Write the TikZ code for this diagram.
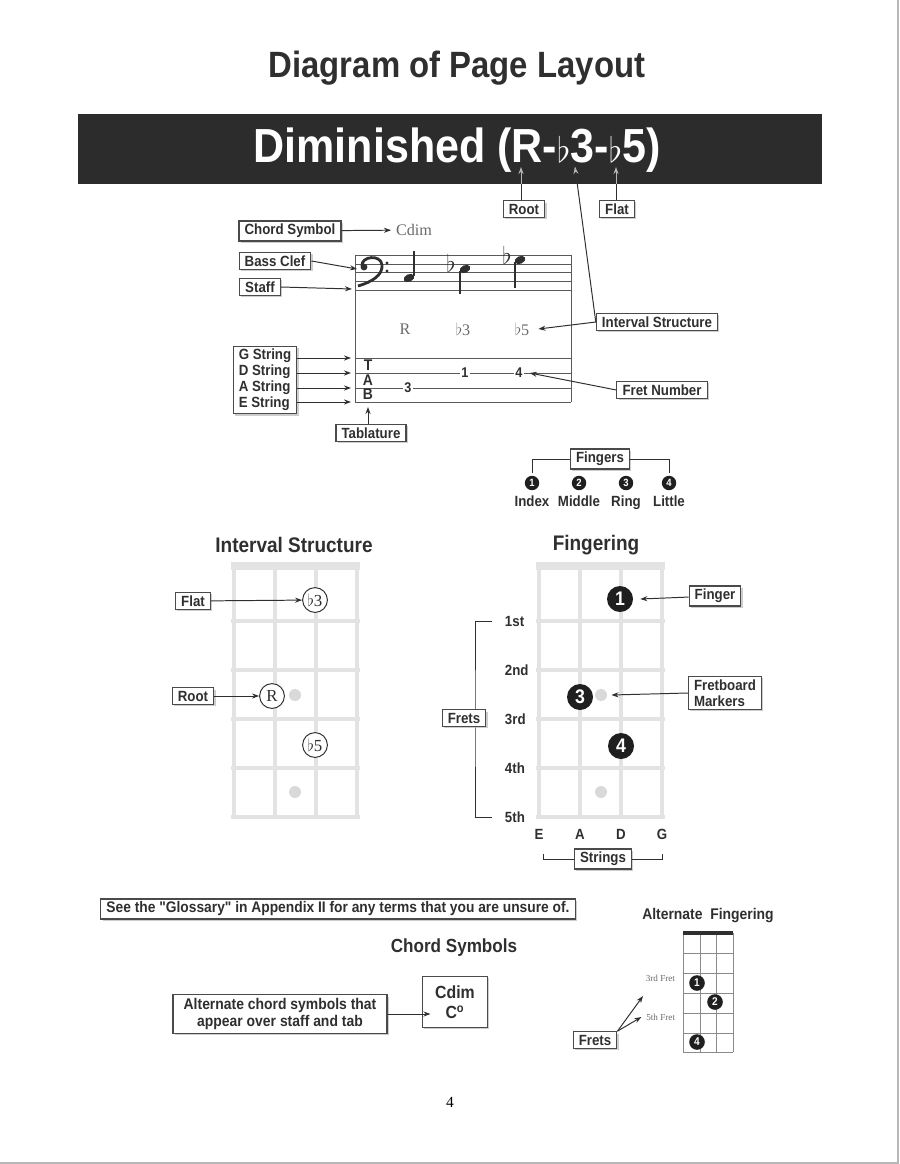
\documentclass[tikz,border=0pt]{standalone}
\usepackage{fontspec}
\setmainfont{Liberation Serif}
\newfontfamily\lblfont{Liberation Sans}[FakeStretch=0.9]
\usepackage{xcolor}
\usepackage{amsmath}
\usepackage{tikz}
\usetikzlibrary{shapes.geometric,arrows.meta,positioning,calc,shadows}
\definecolor{InkGray}{HTML}{2F2F2F}
\definecolor{BoxLine}{HTML}{4A4A4A}
\definecolor{BannerGray}{HTML}{2C2C2C}
\definecolor{GridGray}{HTML}{E3E3E3}
\definecolor{DotGray}{HTML}{D9D9D9}
\definecolor{SerifGray}{HTML}{6A6A6A}
\definecolor{ShadeGray}{HTML}{B8B8B8}
\definecolor{FretLine}{HTML}{8A8A8A}
\definecolor{PaleArrow}{HTML}{B5B5B5}
\tikzset{
  % Label box
  LB/.style={rectangle,draw=BoxLine,fill=white,line width=0.8pt,
             inner xsep=4pt,inner ysep=2.2pt,text=InkGray,
             font=\lblfont\bfseries\fontsize{10.5}{11.5}\selectfont,
             drop shadow={shadow xshift=1.3pt,shadow yshift=-1.3pt,fill=ShadeGray,opacity=.7}},
  % Arrow and plain line
  arr/.style={-{Stealth[length=5pt,width=3.6pt]},line width=0.7pt,draw=InkGray},
  ln/.style={line width=0.7pt,draw=InkGray},
  % Texts
  TT/.style={font=\lblfont\bfseries\fontsize{26}{30}\selectfont,text=InkGray},
  HD/.style={font=\lblfont\bfseries\fontsize{15}{17}\selectfont,text=InkGray},
  ST/.style={font=\lblfont\bfseries\fontsize{10.5}{12}\selectfont,text=InkGray},
  SG/.style={font=\fontsize{11.5}{13}\selectfont,text=SerifGray},
  % Banner
  BN/.style={rectangle,fill=BannerGray,minimum width=18.6cm,minimum height=1.75cm,inner sep=0pt},
  BT/.style={font=\lblfont\bfseries\fontsize{34}{38}\selectfont,text=white},
  % Staff parts
  SL/.style={line width=0.6pt,draw=InkGray!80},
  NH/.style={ellipse,fill=InkGray,inner sep=0pt,minimum width=0.28cm,minimum height=0.19cm},
  SM/.style={line width=0.8pt,draw=InkGray},
  FL/.style={font=\fontsize{17}{17}\selectfont,text=InkGray,inner sep=0pt},
  TB/.style={font=\lblfont\bfseries\fontsize{11}{11}\selectfont,text=InkGray,inner sep=0pt},
  TN/.style={font=\lblfont\bfseries\fontsize{10}{10}\selectfont,text=InkGray,fill=white,inner sep=1pt},
  % Finger dots
  FD/.style={circle,fill=black!88,text=white,inner sep=0pt,minimum size=0.65cm,
             font=\lblfont\bfseries\fontsize{14}{14}\selectfont},
  fd/.style={circle,fill=black!88,text=white,inner sep=0pt,minimum size=0.36cm,
             font=\lblfont\bfseries\fontsize{7.5}{7.5}\selectfont},
  % Interval circles and markers
  IC/.style={circle,draw=InkGray,fill=white,line width=0.7pt,inner sep=0pt,minimum size=0.62cm,
             font=\fontsize{12}{12}\selectfont,text=InkGray},
  MK/.style={circle,fill=DotGray,inner sep=0pt,minimum size=0.3cm},
  GR/.style={draw=GridGray,line width=3pt},
  NT/.style={draw=GridGray,line width=5.5pt}
}
\begin{document}
\begin{tikzpicture}[x=0.025cm,y=-0.025cm,every node/.style={align=center}]
  \useasboundingbox (0,0) rectangle (900,1164);
  \draw[ShadeGray,line width=0.8pt] (898,0) -- (898,1163) -- (0,1163);

  % Title and banner
  \node[TT] (title) at (457,68) {Diagram of Page Layout};
  \node[BN] (banner) at (450,149) {};
  \node[BT] (bantxt) at (457,150) {Diminished (R-$\flat$3-$\flat$5)};
  \coordinate (pR)  at (521,167);
  \coordinate (pF3) at (575,167);
  \coordinate (pF5) at (616,167);

  % Staff and tab
  \foreach \y in {255,264,272,281,290} \draw[SL] (355,\y) -- (571,\y);
  \foreach \y in {358,373,388,402} \draw[SL] (355,\y) -- (571,\y);
  \draw[SL] (355,255) -- (355,402);
  \draw[SL] (571,255) -- (571,402);
  % bass clef
  \fill[InkGray] (364,267) circle (3.4);
  \draw[InkGray,line width=2pt] (362,266) .. controls (361,256) and (381,254) .. (382,265)
        .. controls (383,275) and (372,282) .. (358,286);
  \fill[InkGray] (387,263) circle (1.7);
  \fill[InkGray] (387,271) circle (1.7);
  \coordinate (clef) at (357,269);
  \coordinate (stfpt) at (352,289);
  % notes
  \node[NH,rotate=25] (n1) at (409,278) {};
  \node[NH,rotate=25] (n2) at (465,269) {};
  \node[NH,rotate=25] (n3) at (520,260) {};
  \draw[SM] (414,276) -- (414,251);
  \draw[SM] (460,271) -- (460,294);
  \draw[SM] (515,262) -- (515,288);
  \node[FL] (fl2) at (451,263) {$\flat$};
  \node[FL] (fl3) at (507,255) {$\flat$};
  \node[SG] (stR) at (405,329) {R};
  \node[SG] (st3) at (463,329) {$\flat$3};
  \node[SG] (st5) at (522,329) {$\flat$5};
  \node[TB] (tT) at (368,365) {T};
  \node[TB] (tA) at (368,380) {A};
  \node[TB] (tB) at (368,394) {B};
  \node[TN] (t3) at (408,388) {3};
  \node[TN] (t1) at (465,373) {1};
  \node[TN] (t4) at (519,373) {4};
  \coordinate (sG) at (351,358);
  \coordinate (sD) at (351,373);
  \coordinate (sA) at (351,388);
  \coordinate (sE) at (351,402);
  \coordinate (tabpt) at (368,407);

  % Labels round the staff
  \node[LB] (root) at (524,209) {Root};
  \node[LB] (flat) at (617,209) {Flat};
  \node[LB] (chs) at (290,231) {Chord Symbol};
  \node[SG] (cdim) at (414,230) {Cdim};
  \node[LB] (bcl) at (275,261) {Bass Clef};
  \node[LB] (stf) at (260,287) {Staff};
  \node[LB,align=left,font=\lblfont\bfseries\fontsize{10.5}{11.3}\selectfont] (strs) at (265,380)
       {G String\\D String\\A String\\E String};
  \node[LB] (tabl) at (371,433) {Tablature};
  \node[LB] (ivs) at (657,322) {Interval Structure};
  \node[LB] (frn) at (662,390) {Fret Number};

  \draw[ln](root.north -| pR)--(pR |- banner.south);
  \draw[ln](flat.north -| pF5)--(pF5 |- banner.south);
  \draw[ln](ivs.west)--($(ivs.west)!(banner.south)!(pF3)$);
  \draw[arr,draw=PaleArrow](pR |- banner.south)--(pR);
  \draw[arr,draw=PaleArrow](pF5 |- banner.south)--(pF5);
  \draw[arr,draw=PaleArrow]($(ivs.west)!(banner.south)!(pF3)$)--(pF3);
  \draw[arr](ivs.west)--([xshift=3pt]st5.east);
  \draw[arr](chs)--(cdim);
  \draw[arr](bcl.east)--(clef);
  \draw[arr](stf.east)--(stfpt);
  \foreach \c in {sG,sD,sA,sE} \draw[arr](strs.east |- \c)--(\c);
  \draw[arr](tabl.north -| tB)--(tabpt);
  \draw[arr](frn.west)--([xshift=4pt]t4.east);

  % Fingers legend
  \node[LB] (fgs) at (600,459) {Fingers};
  \foreach \x/\n/\w in {532/1/Index,579/2/Middle,626/3/Ring,669/4/Little}{
    \node[fd] (c\n) at (\x,483) {\n};
    \node[ST,anchor=base] (w\n) at (\x,506) {\w};
  }
  \draw[ln,shorten >=2pt](fgs.west) -| (c1.north);
  \draw[ln,shorten >=2pt](fgs.east) -| (c4.north);

  % Interval structure board
  \node[HD] (ivt) at (294,545) {Interval Structure};
  \foreach \x in {234,275,316,357} \draw[GR] (\x,566) -- (\x,817);
  \foreach \y in {621,670,719,768,817} \draw[GR] (231,\y) -- (360,\y);
  \draw[NT] (231,566) -- (360,566);
  \node[MK] (im1) at (295,695) {};
  \node[MK] (im2) at (295,792) {};
  \node[IC] (iv3) at (315,600) {$\flat$3};
  \node[IC] (ivR) at (272,696) {R};
  \node[IC] (iv5) at (315,745) {$\flat$5};
  \node[LB] (flat2) at (193,601) {Flat};
  \node[LB] (root2) at (193,696) {Root};
  \draw[arr](flat2)--(iv3);
  \draw[arr](root2)--(ivR);

  % Fingering board
  \node[HD] (fgt) at (596,545) {Fingering};
  \foreach \x in {539,580,621,662} \draw[GR] (\x,566) -- (\x,817);
  \foreach \y in {621,670,719,768,817} \draw[GR] (536,\y) -- (665,\y);
  \draw[NT] (536,566) -- (665,566);
  \node[MK] (fm1) at (601,695) {};
  \node[MK] (fm2) at (601,792) {};
  \node[FD] (f1) at (620,599) {1};
  \node[FD] (f3) at (580,697) {3};
  \node[FD] (f4) at (621,746) {4};
  \node[LB] (fbox) at (715,596) {Finger};
  \node[LB,align=left] (mbox) at (725,693) {Fretboard\\Markers};
  \draw[arr](fbox)--([xshift=5pt]f1.east);
  \draw[arr](mbox.west)--([xshift=3pt]fm1.east);
  \foreach \y/\t [count=\i] in {621/1st,670/2nd,719/3rd,768/4th,817/5th}
    \node[ST,anchor=west] (fr\i) at (500,\y) {\t};
  \coordinate (fbk) at (475,718);
  \draw[ln]([xshift=-6pt]fr1.west) -| (fbk) |- ([xshift=-6pt]fr5.west);
  \node[LB] (frbox) at (464,718) {Frets};
  \foreach \x/\s [count=\i] in {539/E,580/A,621/D,662/G}
    \node[ST] (sl\i) at (\x,834) {\s};
  \node[LB] (sbox) at (603,859) {Strings};
  \draw[ln](sbox.west) -| ([xshift=3pt,yshift=-7pt]sl1.south);
  \draw[ln](sbox.east) -| ([yshift=-7pt]sl4.south);

  % Bottom notes
  \node[LB,font=\lblfont\bfseries\fontsize{10.9}{12}\selectfont,inner ysep=2pt] (gloss) at (338,909)
       {See the "Glossary" in Appendix II for any terms that you are unsure of.};
  \node[HD,font=\lblfont\bfseries\fontsize{13.5}{15}\selectfont] (cst) at (454,948) {Chord Symbols};
  \node[LB,font=\lblfont\bfseries\fontsize{11}{12.5}\selectfont,minimum width=5.35cm] (altb) at (280,1014)
       {Alternate chord symbols that\\appear over staff and tab};
  \node[LB,font=\lblfont\bfseries\fontsize{12.5}{14}\selectfont,minimum width=1.62cm,minimum height=1.27cm] (cdb) at (455,1002)
       {Cdim\\C\textsuperscript{o}};
  \draw[arr](altb.east)--([xshift=6pt]cdb.west |- altb.east);

  % Alternate fingering
  \node[ST,font=\lblfont\bfseries\fontsize{11}{12}\selectfont] (aft) at (708,916) {Alternate~ Fingering};
  \foreach \x in {683,700,716,733} \draw[FretLine,line width=0.7pt] (\x,933) -- (\x,1052);
  \foreach \y in {953,973,993,1013,1033,1052} \draw[FretLine,line width=0.7pt] (683,\y) -- (733,\y);
  \draw[InkGray,line width=2.2pt] (683,933) -- (733,933);
  \node[fd,minimum size=0.39cm,font=\lblfont\bfseries\fontsize{8}{8}\selectfont] (a1) at (697,983) {1};
  \node[fd,minimum size=0.39cm,font=\lblfont\bfseries\fontsize{8}{8}\selectfont] (a2) at (715,1002) {2};
  \node[fd,minimum size=0.39cm,font=\lblfont\bfseries\fontsize{8}{8}\selectfont] (a4) at (697,1042) {4};
  \node[SG,font=\fontsize{6.5}{7}\selectfont,anchor=east] (t3f) at (680,978) {3rd Fret};
  \node[SG,font=\fontsize{6.5}{7}\selectfont,anchor=east] (t5f) at (680,1017) {5th Fret};
  \coordinate (p3f) at (643,996);
  \node[LB] (afb) at (595,1040) {Frets};
  \draw[arr](afb.north east)--(p3f);
  \draw[arr](afb.north east)--(t5f.west);

  % Page number
  \node[font=\fontsize{11}{12}\selectfont] (pg) at (450,1102) {4};
\end{tikzpicture}
\end{document}
